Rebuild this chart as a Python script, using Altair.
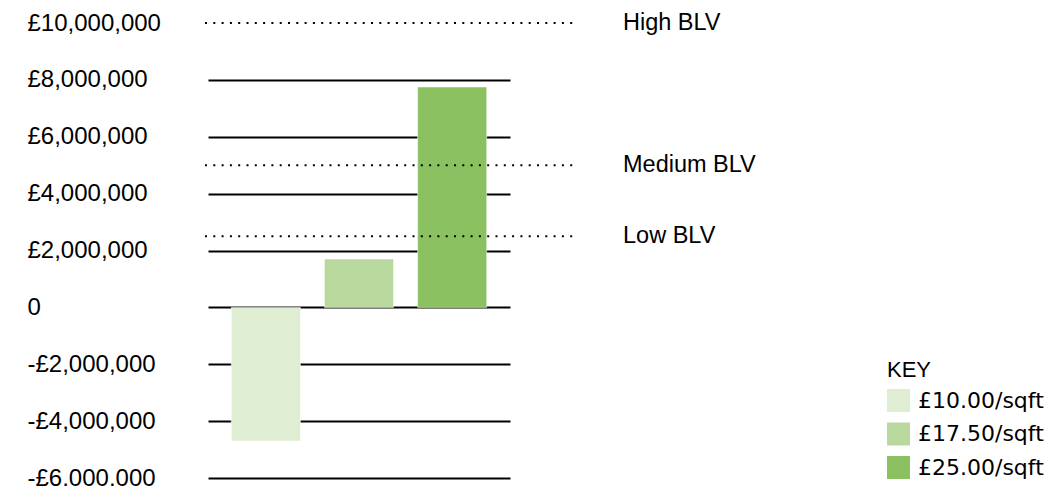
import altair as alt
import pandas as pd

# ---- data ----
categories = ["£10.00/sqft", "£17.50/sqft", "£25.00/sqft"]
values = [-4700000, 1700000, 7750000]
colors = ["#DFEDD3", "#B9D89D", "#8BC161"]

blv_labels = ["High BLV", "Medium BLV", "Low BLV"]
blv_values = [10000000, 5000000, 2500000]

tick_values = [-6000000, -4000000, -2000000, 0, 2000000, 4000000,
               6000000, 8000000, 10000000]

bars_df = pd.DataFrame({"rate": categories, "value": values})
blv_df = pd.DataFrame({"label": blv_labels, "value": blv_values})

FONT = "Liberation Sans"
yscale = alt.Scale(domain=[-6000000, 10000000], nice=False, zero=False)

label_expr = ("datum.value == 0 ? '0' : (datum.value < 0 ? '-£' : '£') + "
              "format(abs(datum.value), ',')")

yaxis = alt.Axis(
    title=None, values=tick_values, labelExpr=label_expr,
    orient="left", ticks=False, tickSize=0, domain=False,
    labelAlign="left", labelBaseline="middle", labelPadding=181,
    labelFont=FONT, labelFontSize=24, labelColor="black",
    grid=True, gridColor="black", gridWidth=2,
    gridOpacity={"condition": {"test": "datum.value == 10000000", "value": 0}, "value": 1},
)

bars = alt.Chart(bars_df).mark_bar(
    stroke="#FFFFFF", strokeWidth=1, strokeOpacity=0.5
).encode(
    x=alt.X("rate:N", sort=categories, axis=None,
            scale=alt.Scale(paddingInner=0.258, paddingOuter=0.25)),
    y=alt.Y("value:Q", scale=yscale, axis=yaxis),
    color=alt.Color("rate:N", sort=categories,
                    scale=alt.Scale(domain=categories, range=colors),
                    legend=alt.Legend(
                        title="KEY", orient="none", legendX=679, legendY=337,
                        symbolType="square", symbolSize=529, symbolStrokeWidth=0,
                        symbolOpacity=1,
                        titleFont=FONT, titleFontSize=22, titleFontWeight="normal",
                        titleColor="black", titlePadding=7,
                        labelFont="DejaVu Sans", labelFontSize=22, labelColor="black",
                        labelOffset=8, rowPadding=10.5)),
)

blv_rules = alt.Chart(blv_df).mark_rule(
    strokeDash=[2, 6.3], strokeWidth=2, color="black"
).encode(
    y=alt.Y("value:Q", scale=yscale, axis=yaxis),
    x=alt.value(-3), x2=alt.value(365),
)

blv_text = alt.Chart(blv_df).mark_text(
    align="left", baseline="middle", fontSize=23.5, font=FONT, color="black"
).encode(
    y=alt.Y("value:Q", scale=yscale, axis=yaxis),
    x=alt.value(415),
    text="label:N",
)

chart = alt.layer(bars, blv_rules, blv_text).properties(
    width=302, height=455,
    autosize=alt.AutoSizeParams(type="none"),
    padding={"left": 200, "top": 15, "right": 540, "bottom": 8},
).configure_view(stroke=None)

chart.save("out.html", embed_options={"renderer": "svg", "actions": False})
